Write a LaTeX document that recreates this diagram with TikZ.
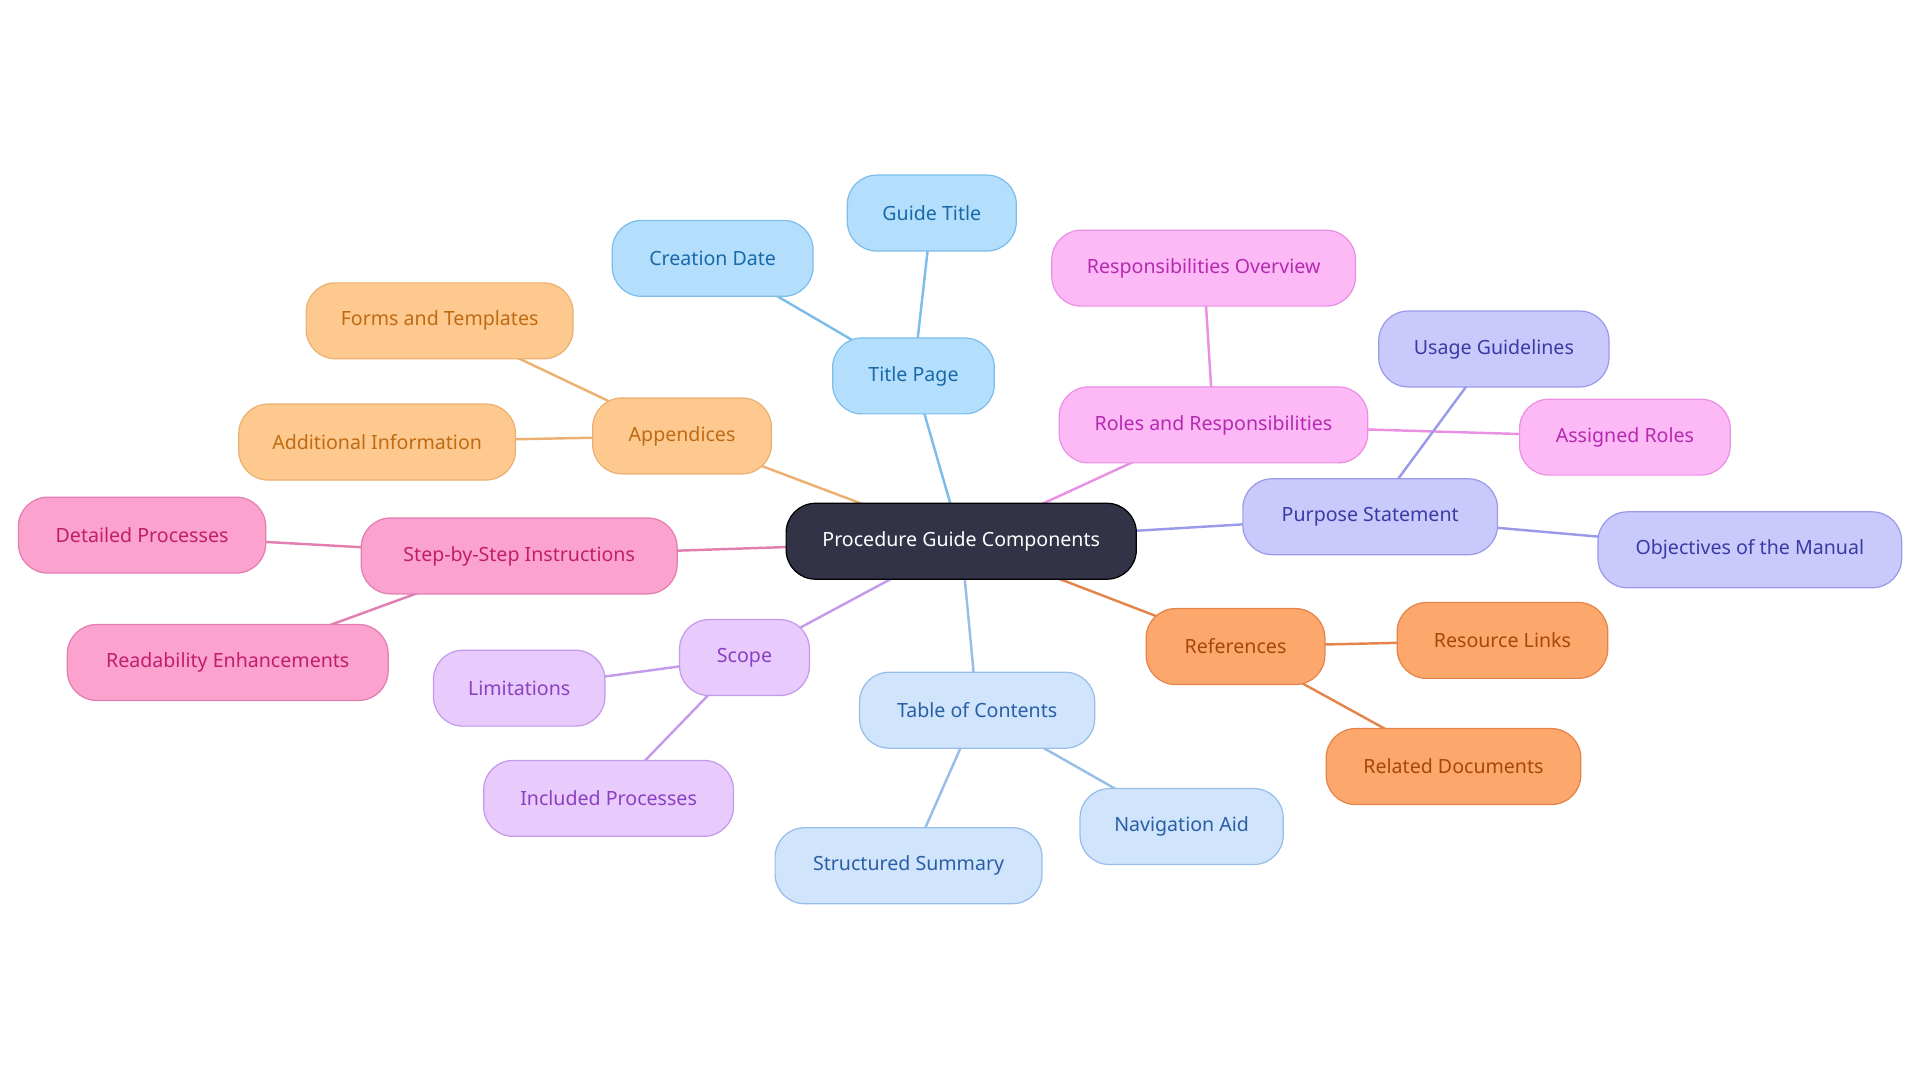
\documentclass[tikz,border=0pt]{standalone}
\usepackage{fontspec}
\setmainfont{Noto Sans}
\usetikzlibrary{backgrounds}
\definecolor{bF}{HTML}{B3DFFC}\definecolor{bD}{HTML}{7DBDEA}\definecolor{bT}{HTML}{1968A8}
\definecolor{mF}{HTML}{FDB8F6}\definecolor{mD}{HTML}{EA90E4}\definecolor{mT}{HTML}{B42AB0}
\definecolor{pF}{HTML}{C9C9FC}\definecolor{pD}{HTML}{9A9AEA}\definecolor{pT}{HTML}{3A3AA4}
\definecolor{oF}{HTML}{FCA76C}\definecolor{oD}{HTML}{E4844A}\definecolor{oT}{HTML}{A4480E}
\definecolor{lF}{HTML}{D0E4FB}\definecolor{lD}{HTML}{98BEE8}\definecolor{lT}{HTML}{2A5EA6}
\definecolor{vF}{HTML}{E8CAFC}\definecolor{vD}{HTML}{C49AEA}\definecolor{vT}{HTML}{8A40C0}
\definecolor{kF}{HTML}{FCA2CE}\definecolor{kD}{HTML}{E27EB0}\definecolor{kT}{HTML}{C01E6C}
\definecolor{yF}{HTML}{FDC98F}\definecolor{yD}{HTML}{ECB070}\definecolor{yT}{HTML}{C06A12}
\tikzset{x=1pt,y=-1pt,
 box/.style n args={3}{draw=#2,fill=#1,text=#3,line width=1pt,rounded corners=24pt,minimum height=62pt,inner xsep=0pt,font=\fontsize{16}{19}\selectfont},
 edge/.style={line width=2pt,draw=#1}}
\begin{document}
\begin{tikzpicture}
\useasboundingbox (0,0) rectangle (1568,884);
\node[box={black!92!blue}{black}{white},fill=black!90!blue!80,minimum width=286pt] (root) at (785,442) {Procedure Guide Components};
\node[box={bF}{bD}{bT},minimum width=132pt] (tp) at (746,307) {Title Page};
\node[box={bF}{bD}{bT},minimum width=138pt] (gt) at (761,174) {Guide Title};
\node[box={bF}{bD}{bT},minimum width=164pt] (cd) at (582,211) {Creation Date};
\node[box={mF}{mD}{mT},minimum width=252pt] (rr) at (991,347) {Roles and Responsibilities};
\node[box={mF}{mD}{mT},minimum width=248pt] (ro) at (983,219) {Responsibilities Overview};
\node[box={mF}{mD}{mT},minimum width=172pt] (ar) at (1327,357) {Assigned Roles};
\node[box={pF}{pD}{pT},minimum width=208pt] (ps) at (1119,422) {Purpose Statement};
\node[box={pF}{pD}{pT},minimum width=188pt] (ug) at (1220,285) {Usage Guidelines};
\node[box={pF}{pD}{pT},minimum width=248pt] (om) at (1429,449) {Objectives of the Manual};
\node[box={oF}{oD}{oT},minimum width=146pt] (rf) at (1009,528) {References};
\node[box={oF}{oD}{oT},minimum width=172pt] (rl) at (1227,523) {Resource Links};
\node[box={oF}{oD}{oT},minimum width=208pt] (rd) at (1187,626) {Related Documents};
\node[box={lF}{lD}{lT},minimum width=192pt] (tc) at (798,580) {Table of Contents};
\node[box={lF}{lD}{lT},minimum width=166pt] (na) at (965,675) {Navigation Aid};
\node[box={lF}{lD}{lT},minimum width=218pt] (ss) at (742,707) {Structured Summary};
\node[box={vF}{vD}{vT},minimum width=106pt] (sc) at (608,537) {Scope};
\node[box={vF}{vD}{vT},minimum width=140pt] (li) at (424,562) {Limitations};
\node[box={vF}{vD}{vT},minimum width=204pt] (ip) at (497,652) {Included Processes};
\node[box={kF}{kD}{kT},minimum width=258pt] (si) at (424,454) {Step-by-Step Instructions};
\node[box={kF}{kD}{kT},minimum width=202pt] (dp) at (116,437) {Detailed Processes};
\node[box={kF}{kD}{kT},minimum width=262pt] (re) at (186,541) {Readability Enhancements};
\node[box={yF}{yD}{yT},minimum width=146pt] (ap) at (557,356) {Appendices};
\node[box={yF}{yD}{yT},minimum width=218pt] (ft) at (359,262) {Forms and Templates};
\node[box={yF}{yD}{yT},minimum width=226pt] (ai) at (308,361) {Additional Information};
\begin{scope}[on background layer]
\draw[edge=bD] (root.center)--(tp.center) (tp.center)--(gt.center) (tp.center)--(cd.center);
\draw[edge=mD] (root.center)--(rr.center) (rr.center)--(ro.center) (rr.center)--(ar.center);
\draw[edge=pD] (root.center)--(ps.center) (ps.center)--(ug.center) (ps.center)--(om.center);
\draw[edge=oD] (root.center)--(rf.center) (rf.center)--(rl.center) (rf.center)--(rd.center);
\draw[edge=lD] (root.center)--(tc.center) (tc.center)--(na.center) (tc.center)--(ss.center);
\draw[edge=vD] (root.center)--(sc.center) (sc.center)--(li.center) (sc.center)--(ip.center);
\draw[edge=kD] (root.center)--(si.center) (si.center)--(dp.center) (si.center)--(re.center);
\draw[edge=yD] (root.center)--(ap.center) (ap.center)--(ft.center) (ap.center)--(ai.center);
\end{scope}
\end{tikzpicture}
\end{document}
